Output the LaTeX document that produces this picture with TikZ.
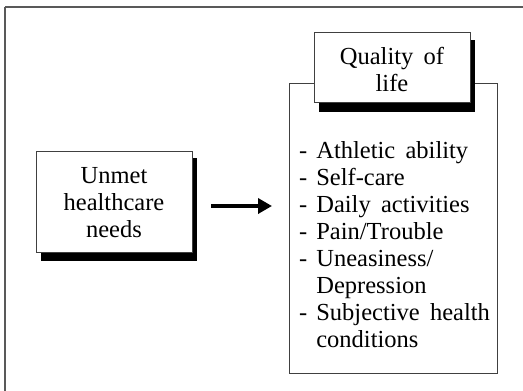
\documentclass[tikz,border=0pt]{standalone}
\usepackage{fontspec}
\setmainfont{Liberation Serif}
\usetikzlibrary{arrows.meta}
\newcommand{\wsp}{\hspace{0.42em}}
\begin{document}
\begin{tikzpicture}[x=1pt,y=-1pt,
  shadowbox/.style={draw=black!75,line width=0.8pt,fill=white},
  shade/.style={fill=black},
  txt/.style={font=\fontsize{24.5}{27}\selectfont,align=center,inner sep=0pt},
  conn/.style={line width=4pt,-{Triangle[length=14pt,width=15pt]}}]
\useasboundingbox (0,0) rectangle (523,391);
\clip (0,0) rectangle (523,391);
\draw[black!65,line width=1.5pt] (5,7) -- (5,400) (5,7) -- (530,7);
% left box
\fill[shade] (41,158) rectangle (197,261);
\node[shadowbox,minimum width=156pt,minimum height=101pt,anchor=north west,inner sep=0pt] (unmet) at (36,151) {};
\node[txt] (unmettxt) at (114,203) {Unmet\\healthcare\\needs};
% big box
\node[shadowbox,minimum width=208pt,minimum height=290pt,anchor=north west,inner sep=0pt] (qol) at (289,83) {};
% title box
\fill[shade] (319,40) rectangle (475,112);
\node[shadowbox,minimum width=156pt,minimum height=70pt,anchor=north west,inner sep=0pt] (title) at (314,32) {};
\node[txt] (titletxt) at (392,69) {Quality\wsp of\\life};
% list
\node[txt,align=left,anchor=north west] (list) at (299,139) {%
\begin{tabular}{@{}l@{\hspace{9pt}}l@{}}
-& Athletic\wsp ability\\
-& Self-care\\
-& Daily\wsp activities\\
-& Pain/Trouble\\
-& Uneasiness/\\
 & Depression\\
-& Subjective\wsp health\\
 & conditions
\end{tabular}};
% arrow
\coordinate (as) at (211,206);
\coordinate (ae) at (272,206);
\draw[conn] (as) -- (ae);
\end{tikzpicture}
\end{document}
